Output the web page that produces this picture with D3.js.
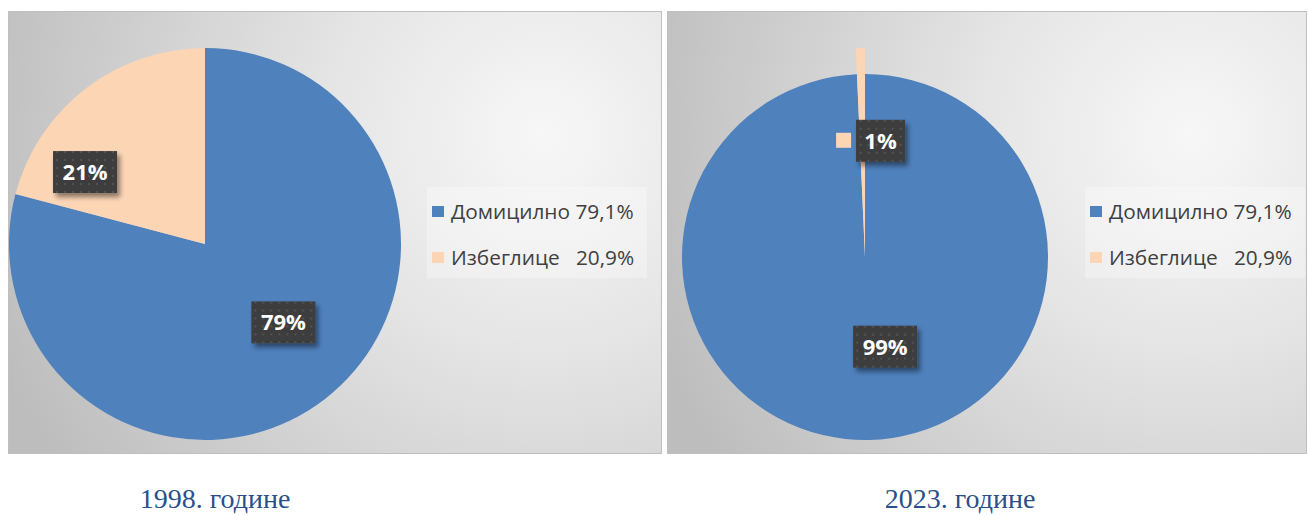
<!DOCTYPE html>
<html>
<head>
<meta charset="utf-8">
<script src="https://cdn.jsdelivr.net/npm/d3@7"></script>
<style>
  html, body { margin: 0; padding: 0; background: #ffffff; }
  svg { display: block; }
  .legend-text { font-family: "Open Sans", sans-serif; font-size: 20.8px; fill: #404040; white-space: pre; }
  .label-text { font-family: "Open Sans", sans-serif; font-size: 22px; font-weight: bold; fill: #ffffff; }
  .caption { font-family: "Liberation Serif", "Times New Roman", serif; font-size: 28px; fill: #2b4f8a; }
</style>
</head>
<body>
<div id="chart"></div>
<script>
  // Chart data.
  var categories = ["Домицилно", "Избеглице"];
  var legendLabels = ["Домицилно 79,1%", "Избеглице   20,9%"];
  var years = ["1998. године", "2023. године"];
  var shares1998 = [79.1, 20.9];
  var shares2023 = [99.3, 0.7];
  var colors = ["#4f81bd", "#fcd5b5"];

  // Layout of the two panels (positions in px, label offsets in units of radius).
  var panels = [
    { x: 8, y: 11, w: 653, h: 442, cx: 205, cy: 244, r: 196, pull: 0,
      legendX: 427, shares: shares1998, year: years[0], captionX: 215,
      labelOffsets: [[0.40, 0.40], [-0.612, -0.367]], labelKey: [false, false] },
    { x: 667, y: 11, w: 639, h: 442, cx: 865, cy: 257, r: 183, pull: 26,
      legendX: 1085, shares: shares2023, year: years[1], captionX: 960,
      labelOffsets: [[0.11, 0.49], [0.085, -0.635]], labelKey: [false, true] }
  ];

  var width = 1308, height = 515;

  var svg = d3.select("#chart").append("svg")
    .attr("width", width)
    .attr("height", height);

  var defs = svg.append("defs");

  // Dotted texture used behind the data labels.
  var pattern = defs.append("pattern")
    .attr("id", "dots")
    .attr("width", 8).attr("height", 8)
    .attr("patternUnits", "userSpaceOnUse");
  pattern.append("rect").attr("width", 8).attr("height", 8).attr("fill", "#3d3d3d");
  pattern.append("rect").attr("x", 3).attr("y", 3).attr("width", 2).attr("height", 2).attr("fill", "#525252");

  // Soft shadow for the label boxes.
  var shadow = defs.append("filter")
    .attr("id", "shadow")
    .attr("x", "-30%").attr("y", "-30%").attr("width", "160%").attr("height", "160%");
  shadow.append("feGaussianBlur").attr("in", "SourceAlpha").attr("stdDeviation", 2.5);
  shadow.append("feOffset").attr("dx", 3).attr("dy", 4).attr("result", "blur");
  shadow.append("feComponentTransfer").append("feFuncA").attr("type", "linear").attr("slope", 0.45);
  var merge = shadow.append("feMerge");
  merge.append("feMergeNode");
  merge.append("feMergeNode").attr("in", "SourceGraphic");

  var pie = d3.pie().sort(null).value(function (d) { return d; });

  panels.forEach(function (p, i) {

    // Radial background gradient, brightest towards the upper right.
    var grad = defs.append("radialGradient")
      .attr("id", "bg" + i)
      .attr("gradientUnits", "userSpaceOnUse")
      .attr("cx", p.x + p.w * 0.82).attr("cy", p.y + p.h * 0.28)
      .attr("r", p.w * 0.9);
    grad.append("stop").attr("offset", 0).attr("stop-color", "#f7f7f7");
    grad.append("stop").attr("offset", 0.35).attr("stop-color", "#e6e6e6");
    grad.append("stop").attr("offset", 1).attr("stop-color", "#bdbdbd");

    var g = svg.append("g");

    g.append("rect")
      .attr("x", p.x + 0.5).attr("y", p.y + 0.5)
      .attr("width", p.w).attr("height", p.h)
      .attr("fill", "url(#bg" + i + ")")
      .attr("stroke", "#bfbfbf")
      .attr("stroke-width", 1);

    // Pie slices.
    var arcs = pie(p.shares);
    var arc = d3.arc().innerRadius(0);

    g.append("g")
      .attr("transform", "translate(" + p.cx + "," + p.cy + ")")
      .selectAll("path")
      .data(arcs)
      .join("path")
      .attr("d", function (d, j) {
        return arc.outerRadius(p.r + (j === 1 ? p.pull : 0))(d);
      })
      .attr("fill", function (d, j) { return colors[j]; });

    // Legend.
    var legend = g.append("g");
    legend.append("rect")
      .attr("x", p.legendX).attr("y", 187)
      .attr("width", 220).attr("height", 91)
      .attr("fill", "#ffffff").attr("fill-opacity", 0.3);

    var rows = legend.selectAll("g.row")
      .data(categories)
      .join("g")
      .attr("class", "row")
      .attr("transform", function (d, j) {
        return "translate(" + (p.legendX + 5) + "," + (212 + j * 46) + ")";
      });
    rows.append("rect")
      .attr("x", 0).attr("y", -6)
      .attr("width", 12).attr("height", 11)
      .attr("fill", function (d, j) { return colors[j]; });
    rows.append("text")
      .attr("class", "legend-text")
      .attr("x", 19).attr("y", 7)
      .text(function (d, j) { return legendLabels[j]; });

    // Data labels in dark boxes.
    var labels = g.append("g")
      .selectAll("g.label")
      .data(arcs)
      .join("g")
      .attr("class", "label")
      .attr("transform", function (d, j) {
        var o = p.labelOffsets[j];
        return "translate(" + (p.cx + o[0] * p.r) + "," + (p.cy + o[1] * p.r) + ")";
      });

    labels.each(function (d, j) {
      var sel = d3.select(this);
      var txt = Math.round(d.value) + "%";
      var boxW = txt.length === 2 ? 49 : 64;
      sel.append("rect")
        .attr("x", -boxW / 2).attr("y", -21)
        .attr("width", boxW).attr("height", 42)
        .attr("fill", "url(#dots)")
        .attr("filter", "url(#shadow)");
      sel.append("text")
        .attr("class", "label-text")
        .attr("text-anchor", "middle")
        .attr("y", 8)
        .text(txt);
      if (p.labelKey[j]) {
        sel.append("rect")
          .attr("x", -boxW / 2 - 20).attr("y", -8)
          .attr("width", 15).attr("height", 15)
          .attr("fill", colors[j]);
      }
    });

    // Year caption under the panel.
    svg.append("text")
      .attr("class", "caption")
      .attr("x", p.captionX).attr("y", 508)
      .attr("text-anchor", "middle")
      .text(p.year);
  });
</script>
</body>
</html>
